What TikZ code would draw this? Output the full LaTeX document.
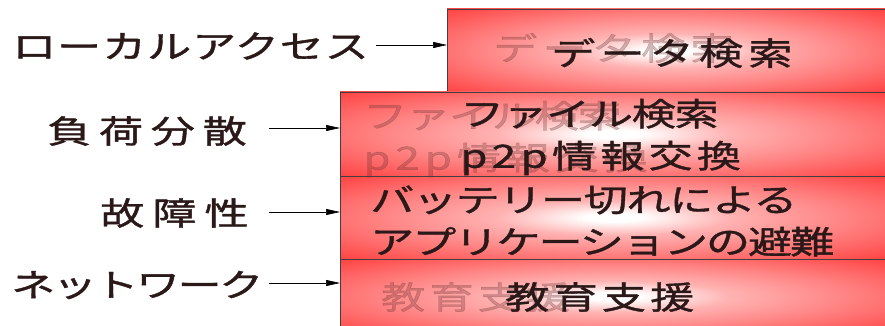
\documentclass[tikz,border=0pt]{standalone}
\usepackage{fontspec}
\newfontfamily\jp[FakeStretch=1.38,FakeBold=1.2]{Noto Sans CJK JP}
\usetikzlibrary{arrows.meta}
\definecolor{txt}{HTML}{2B1818}
\definecolor{shadowc}{HTML}{6A3030}
\pgfdeclareradialshading{panelshade}{\pgfpointorigin}{%
  color(0bp)=(white); color(2.5bp)=(white); color(10.6bp)=(red!30!white);
  color(21bp)=(red!48!white); color(35.4bp)=(red!74!white);
  color(50bp)=(red)}
\newcommand{\lsp}[2]{{\addfontfeature{LetterSpace=#1}#2}}
\tikzset{
  panel/.style={draw=black!75, line width=0.8pt, shading=panelshade,
    anchor=north west, inner sep=0pt, outer sep=0pt},
  lab/.style={font=\jp\fontsize{32}{42}\selectfont, text=txt, inner sep=0pt, anchor=west},
  boxtext/.style={font=\jp\fontsize{32}{42}\selectfont, text=txt, inner sep=0pt, align=left, anchor=west},
  shadowtext/.style={boxtext, text=shadowc, text opacity=0.3},
  arr/.style={-{Triangle[length=14pt,width=6pt]}, line width=0.6pt, draw=black},
}
\begin{document}
\begin{tikzpicture}[x=1pt,y=-1pt]
\useasboundingbox (0,0) rectangle (885,326);
% panels
\node[panel, minimum width=440pt, minimum height=83pt] (b1) at (447,9) {};
\node[panel, minimum width=547pt, minimum height=84pt] (b2) at (340,92) {};
\node[panel, minimum width=547pt, minimum height=83pt] (b3) at (340,176) {};
\node[panel, minimum width=547pt, minimum height=75pt] (b4) at (340,259) {};
% shadow texts
\node[shadowtext] (s1) at (493,48) {\lsp{16}{データ検索}};
\node[shadowtext] (s2) at (363,139) {\lsp{-4}{ファイル検索}\\\lsp{15}{p2p情報交換}};
\node[shadowtext] (s4) at (381,297) {\lsp{13}{教育支援}};
% main texts
\node[boxtext] (t1) at (551,53) {\lsp{16}{データ検索}};
\node[boxtext] (t2) at (460,137) {\lsp{-4}{ファイル検索}\\\lsp{13}{p2p情報交換}};
\node[boxtext] (t3) at (370,221) {\lsp{-4.5}{バッテリー切れによる}\\\lsp{-6.5}{アプリケーションの避難}};
\node[boxtext] (t4) at (505,297) {\lsp{13}{教育支援}};
% labels
\node[lab] (l1) at (12,46) {\lsp{2.5}{ローカルアクセス}};
\node[lab] (l2) at (47,131) {\lsp{24}{負荷分散}};
\node[lab] (l3) at (100,213) {\lsp{25}{故障性}};
\node[lab] (l4) at (11,285) {\lsp{-8}{ネットワーク}};
% arrows
\coordinate (a1) at (376,45);
\coordinate (a2) at (269,128);
\coordinate (a3) at (269,212);
\coordinate (a4) at (269,283);
\draw[arr] (a1) -- (a1 -| b1.west);
\draw[arr] (a2) -- (a2 -| b2.west);
\draw[arr] (a3) -- (a3 -| b3.west);
\draw[arr] (a4) -- (a4 -| b4.west);
\end{tikzpicture}
\end{document}
